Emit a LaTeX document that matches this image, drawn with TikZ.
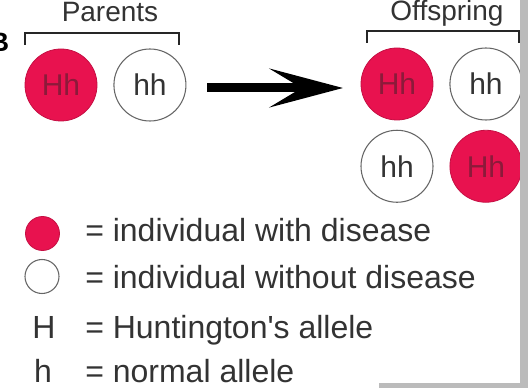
\documentclass[tikz,border=0pt]{standalone}
\usepackage{fontspec}
\setmainfont{Liberation Sans}[Ligatures=TeXOff]
\usetikzlibrary{arrows.meta,positioning}
\definecolor{sick}{HTML}{E8124F}
\definecolor{sickdark}{HTML}{8C1A3A}
\definecolor{ink}{HTML}{333333}
\definecolor{rim}{HTML}{BBBBBB}

\begin{document}
\begin{tikzpicture}[x=0.75pt,y=-0.75pt,node distance=7pt and 12pt,
 ill/.style={circle,fill=sick,draw=sick!85!black,line width=0.6pt,minimum size=54pt,inner sep=0pt,text=sickdark,font=\fontsize{22.5pt}{26pt}\selectfont},
 healthy/.style={circle,fill=white,draw=ink!75,line width=0.8pt,minimum size=54pt,inner sep=0pt,text=ink,font=\fontsize{22.5pt}{26pt}\selectfont},
 keyill/.style={ill,minimum size=25.5pt},
 keywell/.style={healthy,minimum size=25.5pt},
 lbl/.style={inner sep=0pt,text=ink,font=\fontsize{21pt}{25pt}\selectfont},
 txt/.style={inner sep=0pt,text=ink,font=\fontsize{24pt}{28pt}\selectfont},
 brk/.style={line width=1.5pt,draw=black!85},
 arr/.style={-{Stealth[length=55pt,width=29pt,inset=24pt]},line width=6.75pt,draw=black}]
\useasboundingbox (0,0) rectangle (528,388);
\clip (0,0) rectangle (528,388);
\fill[white] (0,0) rectangle (528,388);
\node[inner sep=0pt,anchor=base east,font=\fontsize{20pt}{24pt}\selectfont\bfseries] (panel) at (9.5,52) {B};
% parents
\node[ill] (HhP) at (61,85) {Hh};
\node[healthy,right=of HhP] (hhP) {hh};
\draw[brk] (25,45) -- (25,33) -- (179,33) -- (179,45);
\node[lbl,anchor=base] (parlbl) at (110,21.5) {Parents};
% cross
\coordinate (arrtail) at (207,88);
\coordinate (arrhead) at (343,88);
\draw[arr] (arrtail) -- (arrhead);
% offspring
\node[ill] (HhA) at (397,84) {Hh};
\node[healthy,right=of HhA] (hhA) {hh};
\node[healthy,below=of HhA] (hhB) {hh};
\node[ill,right=of hhB] (HhB) {Hh};
\draw[brk] (367,43) -- (367,31) -- (519,31) -- (519,43);
\node[lbl,anchor=base] (offlbl) at (447,21) {Offspring};
% key
\node[keyill] (keysick) at (42.5,233.5) {};
\node[keywell] (keyfree) at (42,276.5) {};
\node[txt,anchor=base] (keyH) at (44,338) {H};
\node[txt,anchor=base] (keyh) at (43,382) {h};
\node[txt,anchor=base west] (tsick) at (85,242) {= individual with disease};
\node[txt,anchor=base west] (tfree) at (85,288) {= individual without disease};
\node[txt,anchor=base west] (tH) at (85,338) {= Huntington's allele};
\node[txt,anchor=base west] (th) at (85,382) {= normal allele};
% screenshot edge
\fill[rim] (520,0) rectangle (528,388);
\fill[rim] (379,383) rectangle (528,388);
\end{tikzpicture}
\end{document}
